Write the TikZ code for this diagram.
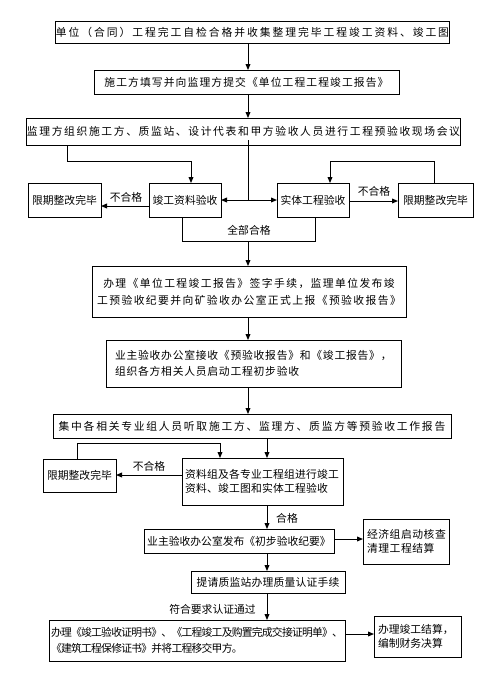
\documentclass[tikz,border=0pt]{standalone}
\usepackage{fontspec}
\setmainfont{Noto Sans CJK SC}
\usetikzlibrary{arrows.meta,shadows}
\newcommand\fnt[2]{\fontsize{8.1pt}{#2}\selectfont\addfontfeature{LetterSpace=#1}}
\tikzset{
  box/.style={draw, line width=0.75pt, fill=white, inner sep=0pt, outer sep=0pt,
    drop shadow={shadow xshift=0.9pt, shadow yshift=-0.9pt, fill=black!45, opacity=1},
    font=\fnt{0}{12pt}},
  lbl/.style={inner sep=0pt, font=\fnt{0}{12pt}},
  ln/.style={line width=0.75pt},
  arr/.style={line width=0.75pt, -{Triangle[length=4.5pt,width=3.6pt]}},
  arrb/.style={line width=0.75pt, {Triangle[length=4.5pt,width=3.6pt]}-{Triangle[length=4.5pt,width=3.6pt]}}
}
\begin{document}
\begin{tikzpicture}[x=0.75pt,y=-0.75pt]
\useasboundingbox[fill=white] (0,0) rectangle (500,683);
% nodes
\node[box, minimum width=293.25pt, minimum height=16.5pt, font=\fnt{18}{12pt}] (b1) at (252.5,32) {单位（合同）工程完工自检合格并收集整理完毕工程竣工资料、竣工图};
\node[box, minimum width=228.75pt, minimum height=18pt, font=\fnt{10}{12pt}] (b2) at (246.5,82) {施工方填写并向监理方提交《单位工程工程竣工报告》};
\node[box, minimum width=321.75pt, minimum height=20.25pt, font=\fnt{15}{12pt}] (b3) at (243.5,131.5) {监理方组织施工方、质监站、设计代表和甲方验收人员进行工程预验收现场会议};
\node[box, minimum width=54pt, minimum height=25.5pt] (zl) at (185,200) {竣工资料验收};
\node[box, minimum width=54.75pt, minimum height=25.5pt] (lL) at (64.5,200) {限期整改完毕};
\node[box, minimum width=54pt, minimum height=25.5pt] (st) at (313,200) {实体工程验收};
\node[box, minimum width=56.25pt, minimum height=25.5pt] (lR) at (435.5,200) {限期整改完毕};
\node[box, minimum width=235.5pt, minimum height=38.25pt, align=center, font=\fnt{13}{12.75pt}] (b4) at (249,291.5) {办理《单位工程竣工报告》签字手续，监理单位发布竣\\工预验收纪要并向矿验收办公室正式上报《预验收报告》};
\node[box, minimum width=221.25pt, minimum height=35.25pt, inner xsep=6.75pt, text width=207.75pt, align=left, font=\fnt{7}{12pt}] (b5) at (253.5,363.5) {业主验收办公室接收《预验收报告》和《竣工报告》，\\组织各方相关人员启动工程初步验收};
\node[box, minimum width=298.5pt, minimum height=18pt, font=\fnt{16}{12pt}] (b6) at (252,426) {集中各相关专业组人员听取施工方、监理方、质监方等预验收工作报告};
\node[box, minimum width=120.75pt, minimum height=35.25pt, inner xsep=2.25pt, text width=116.25pt, align=left, font=\fnt{2}{10.8pt}] (b7) at (262.5,481.5) {资料组及各专业工程组进行竣工\\资料、竣工图和实体工程验收};
\node[box, minimum width=54.75pt, minimum height=24.75pt] (lL2) at (79.5,475.5) {限期整改完毕};
\node[box, minimum width=142.5pt, minimum height=18pt] (b8) at (239,541) {业主验收办公室发布《初步验收纪要》};
\node[box, minimum width=64.5pt, minimum height=33.75pt, inner xsep=3pt, text width=58.5pt, align=left, font=\fnt{5}{10pt}] (jj) at (406,541.5) {经济组启动核查\\清理工程结算};
\node[box, minimum width=115.5pt, minimum height=16.5pt, font=\fnt{2}{12pt}] (b9) at (268,582) {提请质监站办理质量认证手续};
\node[box, minimum width=222pt, minimum height=30.75pt, inner xsep=1.5pt, text width=219pt, align=left, font=\fnt{-7}{12pt}] (b10) at (197,640.5) {办理《竣工验收证明书》、《工程竣工及购置完成交接证明单》、\\《建筑工程保修证书》并将工程移交甲方。};
\node[box, minimum width=65.25pt, minimum height=30.75pt, inner xsep=3pt, text width=59.25pt, align=left, font=\fnt{0}{10.5pt}] (b11) at (417.5,636.5) {办理竣工结算，\\编制财务决算};
% labels
\node[lbl] (n1) at (126,197) {不合格};
\node[lbl] (n2) at (374,191) {不合格};
\node[lbl] (qb) at (249,230) {全部合格};
\node[lbl] (n3) at (149,466) {不合格};
\node[lbl] (hg) at (287,518) {合格};
\node[lbl] (fh) at (212.5,609) {符合要求认证通过};
% helper coordinates
\coordinate (ax) at (248,0);
\coordinate (bx) at (267,0);
\coordinate (c1) at (67,161);
\coordinate (c2) at (191,161);
\coordinate (c3) at (434,161);
\coordinate (c4) at (330,161);
\coordinate (c5) at (182,241);
\coordinate (c6) at (315,241);
\coordinate (c7) at (248,241);
\coordinate (c8) at (77,443);
\coordinate (c9) at (220,443);
\coordinate (s3) at (248,140);
% connectors
\draw[arr] (b1.south -| ax) -- (b2.north -| ax);
\draw[arr] (b2.south -| ax) -- (b3.north -| ax);
\draw[ln] (s3) -- (ax |- zl.east);
\draw[arrb] (zl.east) -- (st.west);
\draw[ln] (b3.south -| c1) -- (c1) -- (c2);
\draw[arr] (c2) -- (zl.north -| c2);
\draw[arr] (zl.west |- 0,206) -- (lL.east |- 0,206);
\draw[arr] (st.east |- 0,201) -- (lR.west |- 0,201);
\draw[ln] (lR.north -| c3) -- (c3) -- (c4);
\draw[arr] (c4) -- (st.north -| c4);
\draw[ln] (zl.south -| c5) -- (c5) -- (c6) -- (st.south -| c6);
\draw[arr] (c7) -- (b4.north -| c7);
\draw[arr] (b4.south -| ax) -- (b5.north -| ax);
\draw[arr] (b5.south -| ax) -- (b6.north -| ax);
\draw[arr] (b6.south -| bx) -- (b7.north -| bx);
\draw[arr] (b7.west |- 0,475) -- (lL2.east |- 0,475);
\draw[ln] (lL2.north -| c8) -- (c8) -- (c9);
\draw[arr] (c9) -- (b7.north -| c9);
\draw[arr] (b7.south -| bx) -- (b8.north -| bx);
\draw[arr] (b8.east |- 0,539) -- (jj.west |- 0,539);
\draw[arr] (b8.south -| bx) -- (b9.north -| bx);
\draw[arr] (b9.south -| bx) -- (b10.north -| bx);
\draw[arr] (b10.east |- 0,634) -- (b11.west |- 0,634);
\end{tikzpicture}
\end{document}
